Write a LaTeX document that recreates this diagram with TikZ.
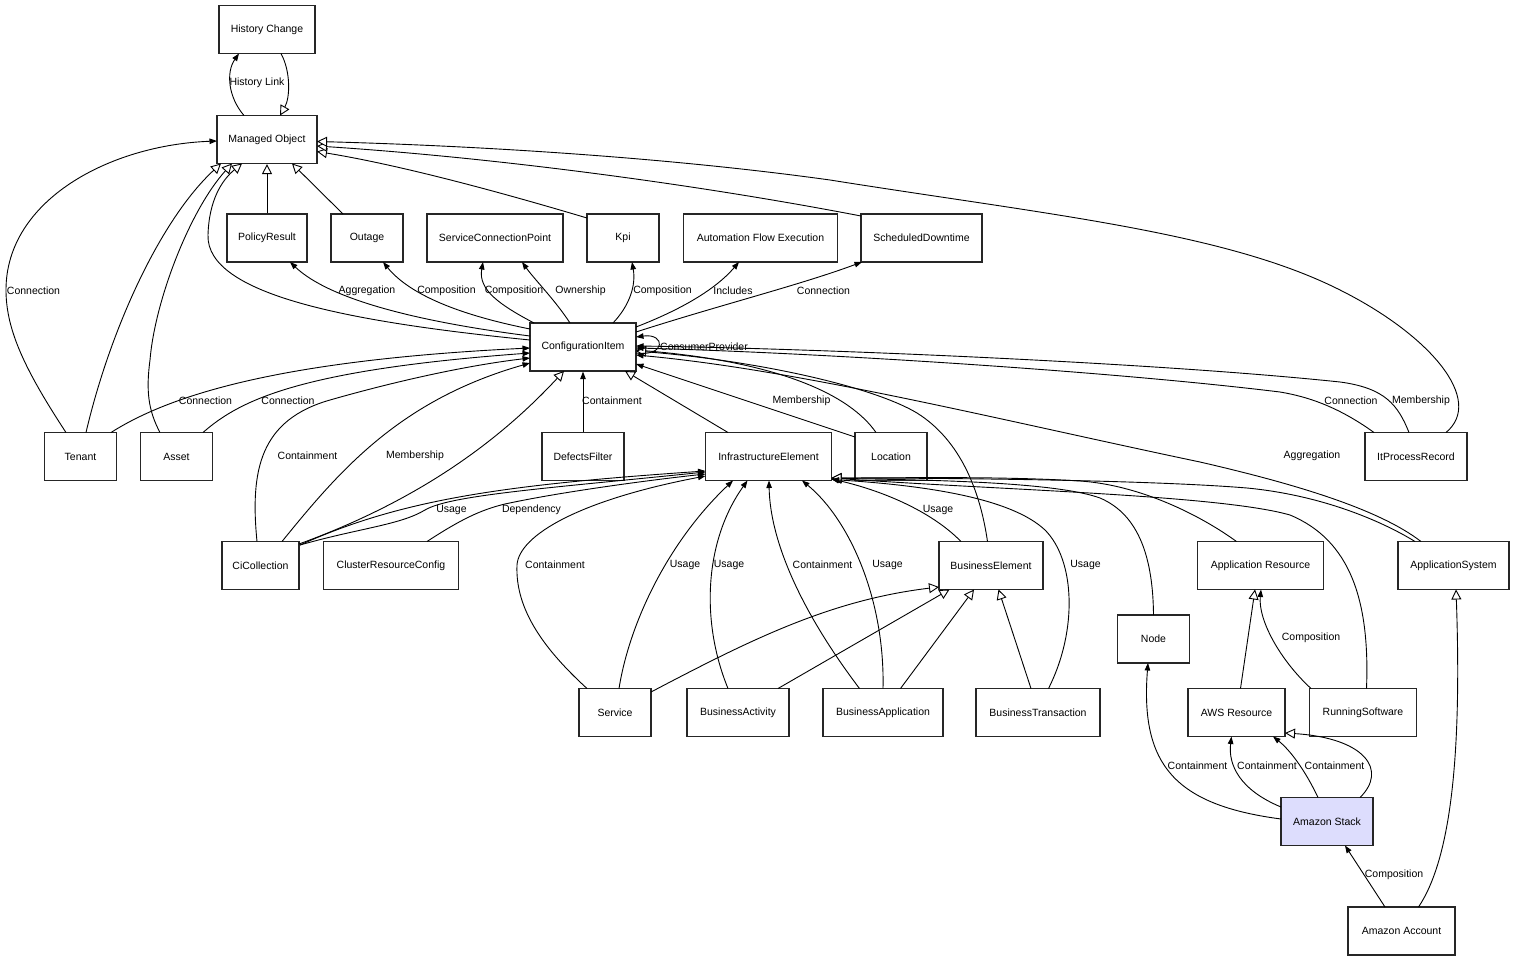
\documentclass[tikz,border=0pt]{standalone}
\usepackage{fontspec}
\setmainfont{Liberation Sans}
\usepackage{tikz}
\usetikzlibrary{arrows.meta}
\usetikzlibrary{calc}
\definecolor{stackfill}{RGB}{221,221,253}
\tikzset{
entity/.style = { rectangle, draw = black!85, line width = 1.2pt, fill = white, minimum height = 48pt, inner sep = 0pt, font = \fontsize{10.5}{12}\selectfont },
link/.style = { draw = black, line width = 0.9pt, -{Triangle[length = 7.5pt, width = 5.5pt]} },
inherit/.style = { draw = black, line width = 0.9pt, -{Triangle[fill = white, length = 10pt, width = 10pt]} },
link label/.style = { inner sep = 0pt, font = \fontsize{10.5}{12}\selectfont },
}
\begin{document}
\begin{tikzpicture}[x=1pt, y=-1pt]
      \useasboundingbox (0,0) rectangle (1515,961);
      \begin{scope}
        \node[entity, minimum width=96pt] (hist) at (267,29.5) {History Change};
        \node[entity, minimum width=100pt] (mobj) at (267,139.5) {Managed Object};
        \node[entity, minimum width=80pt] (policy) at (267,238) {PolicyResult};
        \node[entity, minimum width=72pt] (outage) at (367,238) {Outage};
        \node[entity, minimum width=136pt] (scp) at (495,238) {ServiceConnectionPoint};
        \node[entity, minimum width=72pt] (kpi) at (623,238) {Kpi};
        \node[entity, minimum width=154pt] (afe) at (760.5,238) {Automation Flow Execution};
        \node[entity, minimum width=121pt] (sched) at (921.5,238) {ScheduledDowntime};
        \node[entity, minimum width=106pt] (ci) at (583,347) {ConfigurationItem};
        \node[entity, minimum width=72pt] (tenant) at (80.5,456.5) {Tenant};
        \node[entity, minimum width=72pt] (asset) at (176.5,456.5) {Asset};
        \node[entity, minimum width=82pt] (defects) at (583,456.5) {DefectsFilter};
        \node[entity, minimum width=126pt] (infra) at (768.5,456.5) {InfrastructureElement};
        \node[entity, minimum width=72pt] (location) at (891,456.5) {Location};
        \node[entity, minimum width=102pt] (itpr) at (1416,456.5) {ItProcessRecord};
        \node[entity, minimum width=77pt] (cicoll) at (260.5,565.5) {CiCollection};
        \node[entity, minimum width=135pt] (cluster) at (391,565.5) {ClusterResourceConfig};
        \node[entity, minimum width=104pt] (buselem) at (991,565.5) {BusinessElement};
        \node[entity, minimum width=126pt] (appres) at (1260.5,565.5) {Application Resource};
        \node[entity, minimum width=111pt] (appsys) at (1453.5,565.5) {ApplicationSystem};
        \node[entity, minimum width=72pt] (nodecls) at (1153.5,639) {Node};
        \node[entity, minimum width=72pt] (svc) at (615,712.5) {Service};
        \node[entity, minimum width=102pt] (busact) at (738,712.5) {BusinessActivity};
        \node[entity, minimum width=120pt] (busapp) at (883,712.5) {BusinessApplication};
        \node[entity, minimum width=124pt] (bustx) at (1038,712.5) {BusinessTransaction};
        \node[entity, minimum width=97pt] (aws) at (1236.5,712.5) {AWS Resource};
        \node[entity, minimum width=107pt] (runsw) at (1363,712.5) {RunningSoftware};
        \node[entity, minimum width=92pt, fill=stackfill] (stack) at (1327,821.5) {Amazon Stack};
        \node[entity, minimum width=107pt] (account) at (1401.5,931) {Amazon Account};
      \end{scope}
      % generalisations
      \begin{scope}
        \draw [inherit] ($(hist)+(14,24)$) .. controls (291,72) and (290,98) .. ($(mobj)+(13,-24)$);
        \draw [inherit] ($(tenant)+(5.5,-24)$) .. controls (110,330) and (160,220) .. ($(mobj)+(-46,24)$);
        \draw [inherit] ($(asset)+(-16.5,-24)$) .. controls (148,410) and (146,390) .. (150,360) .. controls (155,300) and (190,210) .. ($(mobj)+(-35,24)$);
        \draw [inherit] ($(ci)+(-53,-7)$) .. controls (350,322) and (206,295) .. (208,235) .. controls (209,200) and (222,180) .. ($(mobj)+(-25,24)$);
        \draw [inherit] (policy) -- (mobj);
        \draw [inherit] ($(outage)+(-24,-24)$) -- ($(mobj)+(25,24)$);
        \draw [inherit] ($(kpi)+(-36,-20)$) .. controls (500,192) and (400,165) .. ($(mobj)+(50,12)$);
        \draw [inherit] ($(sched)+(-60.5,-22)$) .. controls (700,185) and (500,158) .. ($(mobj)+(50,6.5)$);
        \draw [inherit] ($(itpr)+(30,-24)$) .. controls (1485,400) and (1430,335) .. (1340,290) .. controls (1225,232) and (1050,215) .. (830,180) .. controls (650,155) and (450,145) .. ($(mobj)+(50,2)$);
        \draw [inherit] ($(cicoll)+(38.5,-21.5)$) .. controls (420,500) and (500,440) .. ($(ci)+(-19,24)$);
        \draw [inherit] ($(infra)+(-40.5,-24)$) -- ($(ci)+(42,24)$);
        \draw [inherit] ($(location)+(-15,-24)$) .. controls (850,395) and (780,362) .. ($(ci)+(53,3)$);
        \draw [inherit] ($(buselem)+(-3.5,-24)$) .. controls (980,490) and (960,440) .. (917,413) .. controls (870,385) and (750,360) .. ($(ci)+(53,4)$);
        \draw [inherit] ($(nodecls)+(0,-24)$) .. controls (1153,560) and (1140,515) .. (1100,498) .. controls (1050,480) and (900,480) .. ($(infra)+(63,21.5)$);
        \draw [inherit] ($(appres)+(-24,-24)$) .. controls (1200,515) and (1140,485) .. (1080,481) .. controls (1000,476) and (900,478) .. ($(infra)+(63,21.5)$);
        \draw [inherit] ($(runsw)+(3.5,-24)$) .. controls (1370,600) and (1350,540) .. (1290,515) .. controls (1220,495) and (1000,490) .. ($(infra)+(63,21.5)$);
        \draw [inherit] ($(appsys)+(-38.5,-24)$) .. controls (1380,520) and (1320,495) .. (1247,488) .. controls (1150,480) and (950,478) .. ($(infra)+(63,21.5)$);
        \draw [inherit] ($(svc)+(36,-20.5)$) .. controls (750,640) and (830,600) .. ($(buselem)+(-52,21.5)$);
        \draw [inherit] ($(busact)+(40,-24)$) -- ($(buselem)+(-41.5,24)$);
        \draw [inherit] ($(busapp)+(17.5,-24)$) -- ($(buselem)+(-17,24)$);
        \draw [inherit] ($(bustx)+(-7,-24)$) -- ($(buselem)+(7.5,24)$);
        \draw [inherit] ($(aws)+(4,-24)$) -- ($(appres)+(-5.5,24)$);
        \draw [inherit] ($(account)+(17,-24)$) .. controls (1450,860) and (1462,760) .. ($(appsys)+(2.5,24)$);
        \draw [inherit] ($(stack)+(33,-24)$) .. controls (1388,770) and (1365,738) .. ($(aws)+(48.5,20.5)$);
      \end{scope}
      % associations
      \begin{scope}
        \draw [link] ($(mobj)+(-23,-24)$) .. controls (228,97) and (226,72) .. ($(hist)+(-28,24)$);
        \draw [link] ($(tenant)+(-14.5,-24)$) .. controls (25,370) and (6,330) .. (6,290) .. controls (6,200) and (110,145) .. ($(mobj)+(-50,1.5)$);
        \draw [link] ($(ci)+(-53,-11)$) .. controls (420,322) and (330,300) .. ($(policy)+(23,24)$);
        \draw [link] ($(ci)+(-53,-18)$) .. controls (460,315) and (410,295) .. ($(outage)+(16,24)$);
        \draw [link] ($(ci)+(-49,-24)$) .. controls (500,305) and (478,290) .. ($(scp)+(-12,24)$);
        \draw [link] ($(ci)+(-13,-24)$) .. controls (555,300) and (535,280) .. ($(scp)+(27,24)$);
        \draw [link] ($(ci)+(30,-24)$) .. controls (630,305) and (636,285) .. ($(kpi)+(9,24)$);
        \draw [link] ($(ci)+(53,-20)$) .. controls (680,310) and (715,290) .. ($(afe)+(-21.5,24)$);
        \draw [link] ($(ci)+(53,-15)$) .. controls (720,305) and (800,285) .. ($(sched)+(-59.5,24)$);
        \draw [link] ($(ci)+(53,6)$) .. controls (666,357) and (666,333) .. ($(ci)+(53,-10)$);
        \draw [link] ($(tenant)+(30.5,-24)$) .. controls (170,395) and (280,360) .. ($(ci)+(-53,1)$);
        \draw [link] ($(asset)+(26.5,-24)$) .. controls (240,400) and (300,370) .. ($(ci)+(-53,6)$);
        \draw [link] ($(cicoll)+(-3.5,-24)$) .. controls (250,470) and (260,420) .. (330,400) .. controls (400,380) and (470,365) .. ($(ci)+(-53,11)$);
        \draw [link] ($(cicoll)+(21.5,-24)$) .. controls (340,470) and (400,400) .. ($(ci)+(-53,16)$);
        \draw [link] (defects) -- (ci);
        \draw [link] ($(location)+(-36,-19.5)$) -- ($(ci)+(53,17)$);
        \draw [link] ($(itpr)+(-42,-24)$) .. controls (1340,408) and (1310,397) .. (1280,392) .. controls (1100,370) and (800,352) .. ($(ci)+(53,1)$);
        \draw [link] ($(itpr)+(-7,-24)$) .. controls (1398,405) and (1385,388) .. (1340,382) .. controls (1150,362) and (800,348) .. ($(ci)+(53,-1)$);
        \draw [link] ($(appsys)+(-32.5,-24)$) .. controls (1380,510) and (1300,485) .. (1200,462) .. controls (1000,420) and (800,370) .. ($(ci)+(53,8)$);
        \draw [link] ($(cicoll)+(39.5,-20.5)$) .. controls (360,528) and (400,525) .. (425,510) .. controls (450,495) and (550,488) .. ($(infra)+(-63,15.5)$);
        \draw [link] ($(cicoll)+(39.5,-20.5)$) .. controls (400,500) and (500,485) .. ($(infra)+(-63,14.5)$);
        \draw [link] ($(cluster)+(36,-24)$) .. controls (460,520) and (480,510) .. (505,504) .. controls (560,492) and (650,480) .. ($(infra)+(-63,17.5)$);
        \draw [link] ($(svc)+(-28,-24)$) .. controls (545,650) and (515,610) .. (517,565) .. controls (519,535) and (580,500) .. ($(infra)+(-63,19.5)$);
        \draw [link] ($(svc)+(4,-24)$) .. controls (630,620) and (670,540) .. ($(infra)+(-35.5,24)$);
        \draw [link] ($(busact)+(-10,-24)$) .. controls (700,620) and (705,540) .. ($(infra)+(-21,24)$);
        \draw [link] ($(busapp)+(-23.5,-24)$) .. controls (800,610) and (770,540) .. ($(infra)+(0.5,24)$);
        \draw [link] ($(busapp)+(0,-24)$) .. controls (885,600) and (850,520) .. ($(infra)+(33.5,24)$);
        \draw [link] ($(buselem)+(-30,-24)$) .. controls (930,510) and (880,490) .. ($(infra)+(63,22.5)$);
        \draw [link] ($(bustx)+(10.5,-24)$) .. controls (1078,630) and (1075,560) .. (1045,530) .. controls (1010,497) and (920,485) .. ($(infra)+(63,23)$);
        \draw [link] ($(runsw)+(-52,-24)$) .. controls (1280,660) and (1258,620) .. ($(appres)+(0.5,24)$);
        \draw [link] ($(stack)+(-46,-2.5)$) .. controls (1175,805) and (1140,765) .. ($(nodecls)+(-5.5,24)$);
        \draw [link] ($(stack)+(-46,-14.5)$) .. controls (1240,790) and (1228,765) .. ($(aws)+(-5,24)$);
        \draw [link] ($(stack)+(-9,-24)$) .. controls (1305,770) and (1290,750) .. ($(aws)+(36.5,24)$);
        \draw [link] ($(account)+(-16.5,-24)$) -- ($(stack)+(18,24)$);
      \end{scope}
      % labels
      \begin{scope}
        \node[link label] (lHist) at (257,83) {History Link};
        \node[link label] (lConnTenMo) at (33.5,291) {Connection};
        \node[link label] (lAggPol) at (367,291) {Aggregation};
        \node[link label] (lCompOut) at (446.5,291) {Composition};
        \node[link label] (lCompScp) at (514,291) {Composition};
        \node[link label] (lOwnScp) at (580.5,291) {Ownership};
        \node[link label] (lCompKpi) at (662.5,291) {Composition};
        \node[link label] (lIncl) at (733,291) {Includes};
        \node[link label] (lConnSched) at (823.5,291) {Connection};
        \node[link label] (lConsProv) at (704,346.5) {ConsumerProvider};
        \node[link label] (lConnTen) at (205.5,401) {Connection};
        \node[link label] (lConnAst) at (288,401) {Connection};
        \node[link label] (lContDef) at (612,401) {Containment};
        \node[link label] (lMembLoc) at (801.5,401) {Membership};
        \node[link label] (lConnItpr) at (1351,401) {Connection};
        \node[link label] (lMembItpr) at (1421,401) {Membership};
        \node[link label] (lContCic) at (307.5,455.5) {Containment};
        \node[link label] (lMembCic) at (415,455.5) {Membership};
        \node[link label] (lAggSys) at (1312,455.5) {Aggregation};
        \node[link label] (lUseCic) at (451.5,510) {Usage};
        \node[link label] (lDepCl) at (531.5,510) {Dependency};
        \node[link label] (lUseBe) at (938,510) {Usage};
        \node[link label] (lContSvc) at (555,565) {Containment};
        \node[link label] (lUseSvc) at (685,565) {Usage};
        \node[link label] (lUseAct) at (729,565) {Usage};
        \node[link label] (lContApp) at (822.5,565) {Containment};
        \node[link label] (lUseApp) at (887.5,565) {Usage};
        \node[link label] (lUseTx) at (1085.5,565) {Usage};
        \node[link label] (lCompSw) at (1311,638) {Composition};
        \node[link label] (lContNode) at (1197.5,766) {Containment};
        \node[link label] (lContAws) at (1267,766) {Containment};
        \node[link label] (lContAwsB) at (1334.5,766) {Containment};
        \node[link label] (lCompAcc) at (1394,875) {Composition};
      \end{scope}
\end{tikzpicture}
\end{document}
